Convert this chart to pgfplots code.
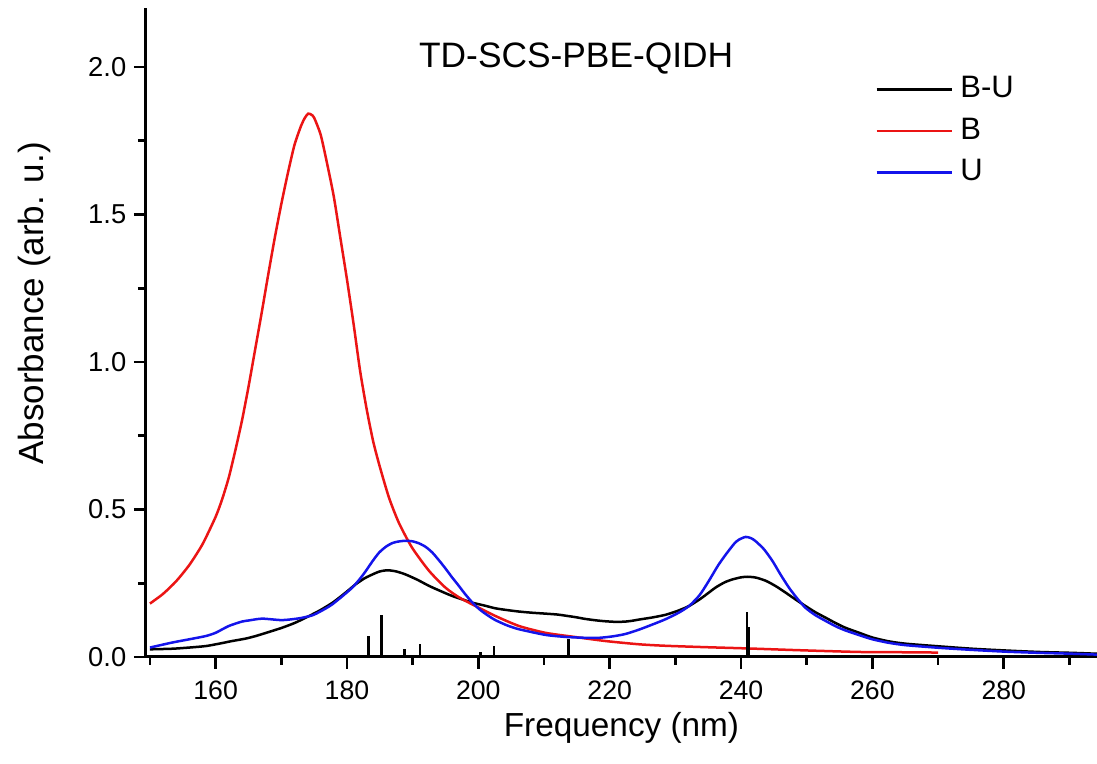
\documentclass[border=0pt]{standalone}
\usepackage{pgfplots}
\pgfplotsset{compat=1.18}
\usepackage{fontspec}
\setmainfont{Liberation Sans}
\definecolor{cred}{RGB}{235,20,20}
\definecolor{cblue}{RGB}{20,20,235}
\begin{document}
\begin{tikzpicture}
\begin{axis}[
  name=ax,
  scale only axis,
  width=285.3pt, height=194.7pt,
  xmin=149.4, xmax=294.2,
  ymin=0, ymax=2.2,
  axis x line*=bottom, axis y line*=left,
  axis line style={line width=0.9pt},
  tick align=outside,
  major tick length=3.6pt, minor tick length=2.4pt,
  every tick/.style={black, line width=0.8pt},
  xtick={160,180,...,280}, minor xtick={150,170,...,290},
  ytick={0,0.5,...,2.0}, minor ytick={0.25,0.75,...,2.0},
  /pgf/number format/assume math mode=true,
  xticklabel style={font=\fontsize{8}{9.6}\selectfont},
  yticklabel style={font=\fontsize{8.2}{10}\selectfont, xshift=1.2pt, /pgf/number format/.cd, fixed, fixed zerofill, precision=1},
  xlabel={Frequency (nm)},
  ylabel={Absorbance (arb. u.)},
  xlabel style={font=\fontsize{10}{12}\selectfont, at={(axis description cs:0.5,-0.109)}, anchor=center},
  ylabel style={font=\fontsize{10.5}{12.6}\selectfont, at={(axis description cs:-0.117,0.545)}, anchor=center, rotate=0},
  legend style={at={(axis description cs:0.7557,0.916)}, anchor=north west, draw=none, fill=none,
     font=\fontsize{9.3}{11}\selectfont, row sep=0.5pt},
  legend cell align=left,
  legend image code/.code={\draw[#1] (0cm,0cm) -- (0.8cm,0cm);},
  clip=true,
  every axis plot/.append style={smooth, tension=0.4},
]
% B-U
\addplot[black, line width=0.75pt] coordinates {
(150,0.026)(153.4,0.028)(156,0.032)(158.5,0.037)(160.5,0.045)(162.5,0.054)(164.5,0.062)
(166.1,0.071)(168,0.084)(170.1,0.099)(172,0.115)(173.7,0.133)(175.8,0.157)(177.8,0.184)
(179.5,0.213)(181.3,0.246)(182.7,0.267)(183.9,0.280)(185,0.290)(186.2,0.294)(187.5,0.290)
(188.9,0.280)(190.7,0.262)(192.5,0.241)(194.2,0.224)(196.0,0.207)(197.6,0.195)(199.1,0.184)
(201,0.174)(202.6,0.165)(204.4,0.159)(206.2,0.154)(208.2,0.150)(210.2,0.147)(212,0.144)
(213.3,0.140)(214.8,0.135)(216.3,0.129)(218,0.124)(219.4,0.121)(221,0.119)(222.4,0.120)
(223.5,0.123)(224.5,0.127)(226.5,0.134)(228.5,0.143)(230.3,0.156)(232.1,0.173)(234,0.200)
(236.1,0.235)(237.5,0.253)(238.7,0.263)(240,0.270)(241,0.272)(242.3,0.269)(243.8,0.258)
(245.3,0.240)(246.8,0.218)(248.3,0.195)(249.8,0.173)(251.3,0.152)(252.9,0.133)(254.4,0.115)
(255.9,0.099)(258,0.082)(260,0.066)(262.5,0.053)(265.1,0.045)(270.2,0.036)(275.2,0.028)
(280.3,0.022)(285.4,0.017)(290.5,0.014)(294.2,0.011)
};
\addlegendentry{B-U}
% B
\addplot[cred, line width=0.75pt] coordinates {
(150,0.181)(152,0.214)(154,0.257)(156,0.312)(158,0.382)(160,0.475)(161,0.535)(162,0.608)
(163,0.700)(164,0.800)(165,0.915)(166,1.040)(167,1.165)(168,1.295)(169,1.420)(170,1.535)
(171,1.640)(172,1.735)(173,1.800)(173.6,1.828)(174.1,1.842)(174.6,1.838)(175,1.828)
(176,1.770)(177,1.670)(178,1.560)(179,1.420)(180,1.280)(181,1.130)(182,0.970)(183,0.840)
(184,0.730)(185,0.645)(186.4,0.540)(187.9,0.455)(189.9,0.371)(192.5,0.292)(195,0.235)
(197,0.203)(199.1,0.178)(202.6,0.139)(206.2,0.105)(210.2,0.082)(214.3,0.069)(219.4,0.054)
(224.5,0.043)(228.5,0.038)(235,0.033)(241,0.029)(248.8,0.023)(258,0.017)(265,0.016)(270,0.015)
};
\addlegendentry{B}
% U
\addplot[cblue, line width=0.75pt] coordinates {
(150,0.032)(153.4,0.049)(156,0.060)(158.5,0.071)(160,0.082)(162,0.105)(164,0.120)(165.1,0.124)
(167.1,0.130)(170.1,0.125)(172.7,0.131)(174.7,0.141)(176,0.155)(177.8,0.179)(180.8,0.235)
(182.5,0.280)(183.9,0.325)(184.9,0.354)(186,0.375)(187,0.387)(188,0.392)(189,0.394)
(190,0.392)(191,0.385)(192,0.373)(193,0.354)(194,0.328)(195,0.300)(196,0.270)(197,0.242)
(198,0.213)(199,0.187)(200.1,0.163)(201.3,0.143)(202.6,0.125)(204.4,0.107)(206.2,0.094)
(210.2,0.075)(213.3,0.068)(216.3,0.065)(218.4,0.065)
(220.5,0.070)(222.4,0.078)(224.5,0.093)(226.5,0.110)(228.5,0.128)(230.5,0.150)(232.1,0.173)
(233.7,0.210)(235.1,0.258)(236.5,0.310)(237.7,0.348)(239,0.385)(239.7,0.398)(240.7,0.407)
(241.5,0.403)(242.2,0.393)(243.5,0.365)(244.8,0.325)(246,0.280)(247.3,0.235)(248.5,0.200)
(249.8,0.167)(251.3,0.142)(252.9,0.122)(254.5,0.103)(255.9,0.090)(258,0.074)(260,0.060)
(262.5,0.048)(265.1,0.040)(270.2,0.031)(275.2,0.024)(280.3,0.018)(285.4,0.014)(290.5,0.011)(294.2,0.008)
};
\addlegendentry{U}
% sticks
\addplot[ycomb, black, line width=0.8pt, forget plot] coordinates {
(183.3,0.071)(185.3,0.142)(188.8,0.028)(191.1,0.044)(200.3,0.018)(202.4,0.036)(213.7,0.062)(240.9,0.154)(241.2,0.100)
};
\node[font=\fontsize{10.6}{12.5}\selectfont] at (axis cs:214.9,2.03) {TD-SCS-PBE-QIDH};
\coordinate (sw) at (rel axis cs:0,0);
\coordinate (ne) at (rel axis cs:1,1);
\end{axis}
\pgfresetboundingbox
\path ([xshift=-43.8pt,yshift=-32.1pt]sw) rectangle ([yshift=2.4pt]ne);
\end{tikzpicture}
\end{document}
